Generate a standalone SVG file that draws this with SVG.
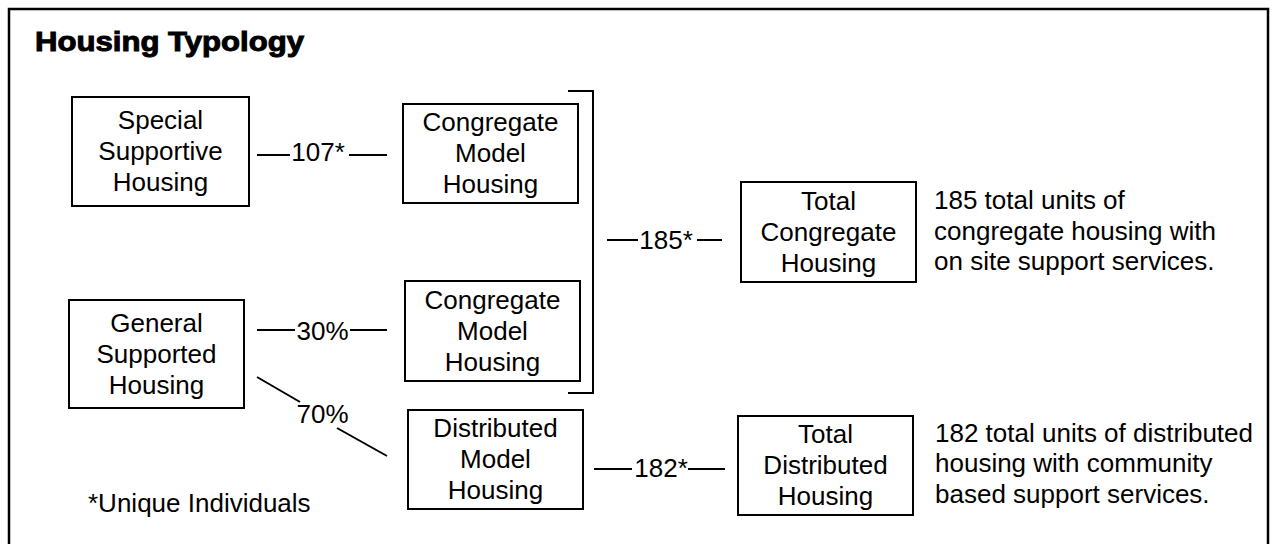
<svg xmlns="http://www.w3.org/2000/svg" width="1278" height="544" viewBox="0 0 1278 544">
<style>
.t{font-family:"Liberation Sans",Arial,sans-serif;font-size:26px;fill:#000}
.c{text-anchor:middle}
.box{fill:#fff;stroke:#000;stroke-width:2}
.ln{stroke:#000;stroke-width:2;fill:none}
.title{font-family:"Liberation Sans",Arial,sans-serif;font-size:28px;font-weight:bold;fill:#000;stroke:#000;stroke-width:1}
</style>
<rect x="0" y="0" width="1278" height="544" fill="#fff"/>
<rect id="frame" x="9" y="9" width="1259" height="560" fill="none" stroke="#000" stroke-width="2.5"/>
<text class="title" x="35" y="51" textLength="269" lengthAdjust="spacingAndGlyphs">Housing Typology</text>

<g id="connectors">
  <line class="ln" x1="257" y1="155" x2="290" y2="155"/>
  <line class="ln" x1="349" y1="155" x2="387" y2="155"/>
  <line class="ln" x1="257" y1="330" x2="295" y2="330"/>
  <line class="ln" x1="350" y1="330" x2="387" y2="330"/>
  <line class="ln" x1="257" y1="377" x2="300" y2="402"/>
  <line class="ln" x1="337" y1="428" x2="387" y2="456"/>
  <path class="ln" d="M568,91 H593 V393 H568"/>
  <line class="ln" x1="607" y1="240" x2="638" y2="240"/>
  <line class="ln" x1="697" y1="240" x2="722" y2="240"/>
  <line class="ln" x1="594" y1="469" x2="632" y2="469"/>
  <line class="ln" x1="688" y1="469" x2="725" y2="469"/>
  <text class="t c" x="318" y="161">107*</text>
  <text class="t c" x="322.5" y="340">30%</text>
  <text class="t c" x="322.5" y="423">70%</text>
  <text class="t c" x="666" y="249">185*</text>
  <text class="t c" x="661" y="477">182*</text>
</g>

<g id="special-supportive">
  <rect class="box" x="72" y="97" width="177" height="109"/>
  <text class="t c" x="160.5" y="129">Special</text>
  <text class="t c" x="160.5" y="160">Supportive</text>
  <text class="t c" x="160.5" y="191">Housing</text>
</g>
<g id="congregate-1">
  <rect class="box" x="403" y="104" width="175" height="99"/>
  <text class="t c" x="490.5" y="131">Congregate</text>
  <text class="t c" x="490.5" y="162">Model</text>
  <text class="t c" x="490.5" y="193">Housing</text>
</g>
<g id="general-supported">
  <rect class="box" x="69" y="300" width="175" height="108"/>
  <text class="t c" x="156.5" y="332">General</text>
  <text class="t c" x="156.5" y="363">Supported</text>
  <text class="t c" x="156.5" y="394">Housing</text>
</g>
<g id="congregate-2">
  <rect class="box" x="405" y="281" width="175" height="100"/>
  <text class="t c" x="492.5" y="309">Congregate</text>
  <text class="t c" x="492.5" y="340">Model</text>
  <text class="t c" x="492.5" y="371">Housing</text>
</g>
<g id="distributed">
  <rect class="box" x="408" y="410" width="175" height="99"/>
  <text class="t c" x="495.5" y="437">Distributed</text>
  <text class="t c" x="495.5" y="468">Model</text>
  <text class="t c" x="495.5" y="499">Housing</text>
</g>
<g id="total-congregate">
  <rect class="box" x="741" y="182" width="175" height="100"/>
  <text class="t c" x="828.5" y="210">Total</text>
  <text class="t c" x="828.5" y="241">Congregate</text>
  <text class="t c" x="828.5" y="272">Housing</text>
</g>
<g id="total-distributed">
  <rect class="box" x="738" y="416" width="175" height="99"/>
  <text class="t c" x="825.5" y="443">Total</text>
  <text class="t c" x="825.5" y="474">Distributed</text>
  <text class="t c" x="825.5" y="505">Housing</text>
</g>
<g id="notes">
  <text class="t" x="934" y="209">185 total units of</text>
  <text class="t" x="934" y="240">congregate housing with</text>
  <text class="t" x="934" y="270">on site support services.</text>
  <text class="t" x="935" y="442">182 total units of distributed</text>
  <text class="t" x="935" y="472">housing with community</text>
  <text class="t" x="935" y="503">based support services.</text>
  <text class="t" x="88" y="512">*Unique Individuals</text>
</g>
</svg>
